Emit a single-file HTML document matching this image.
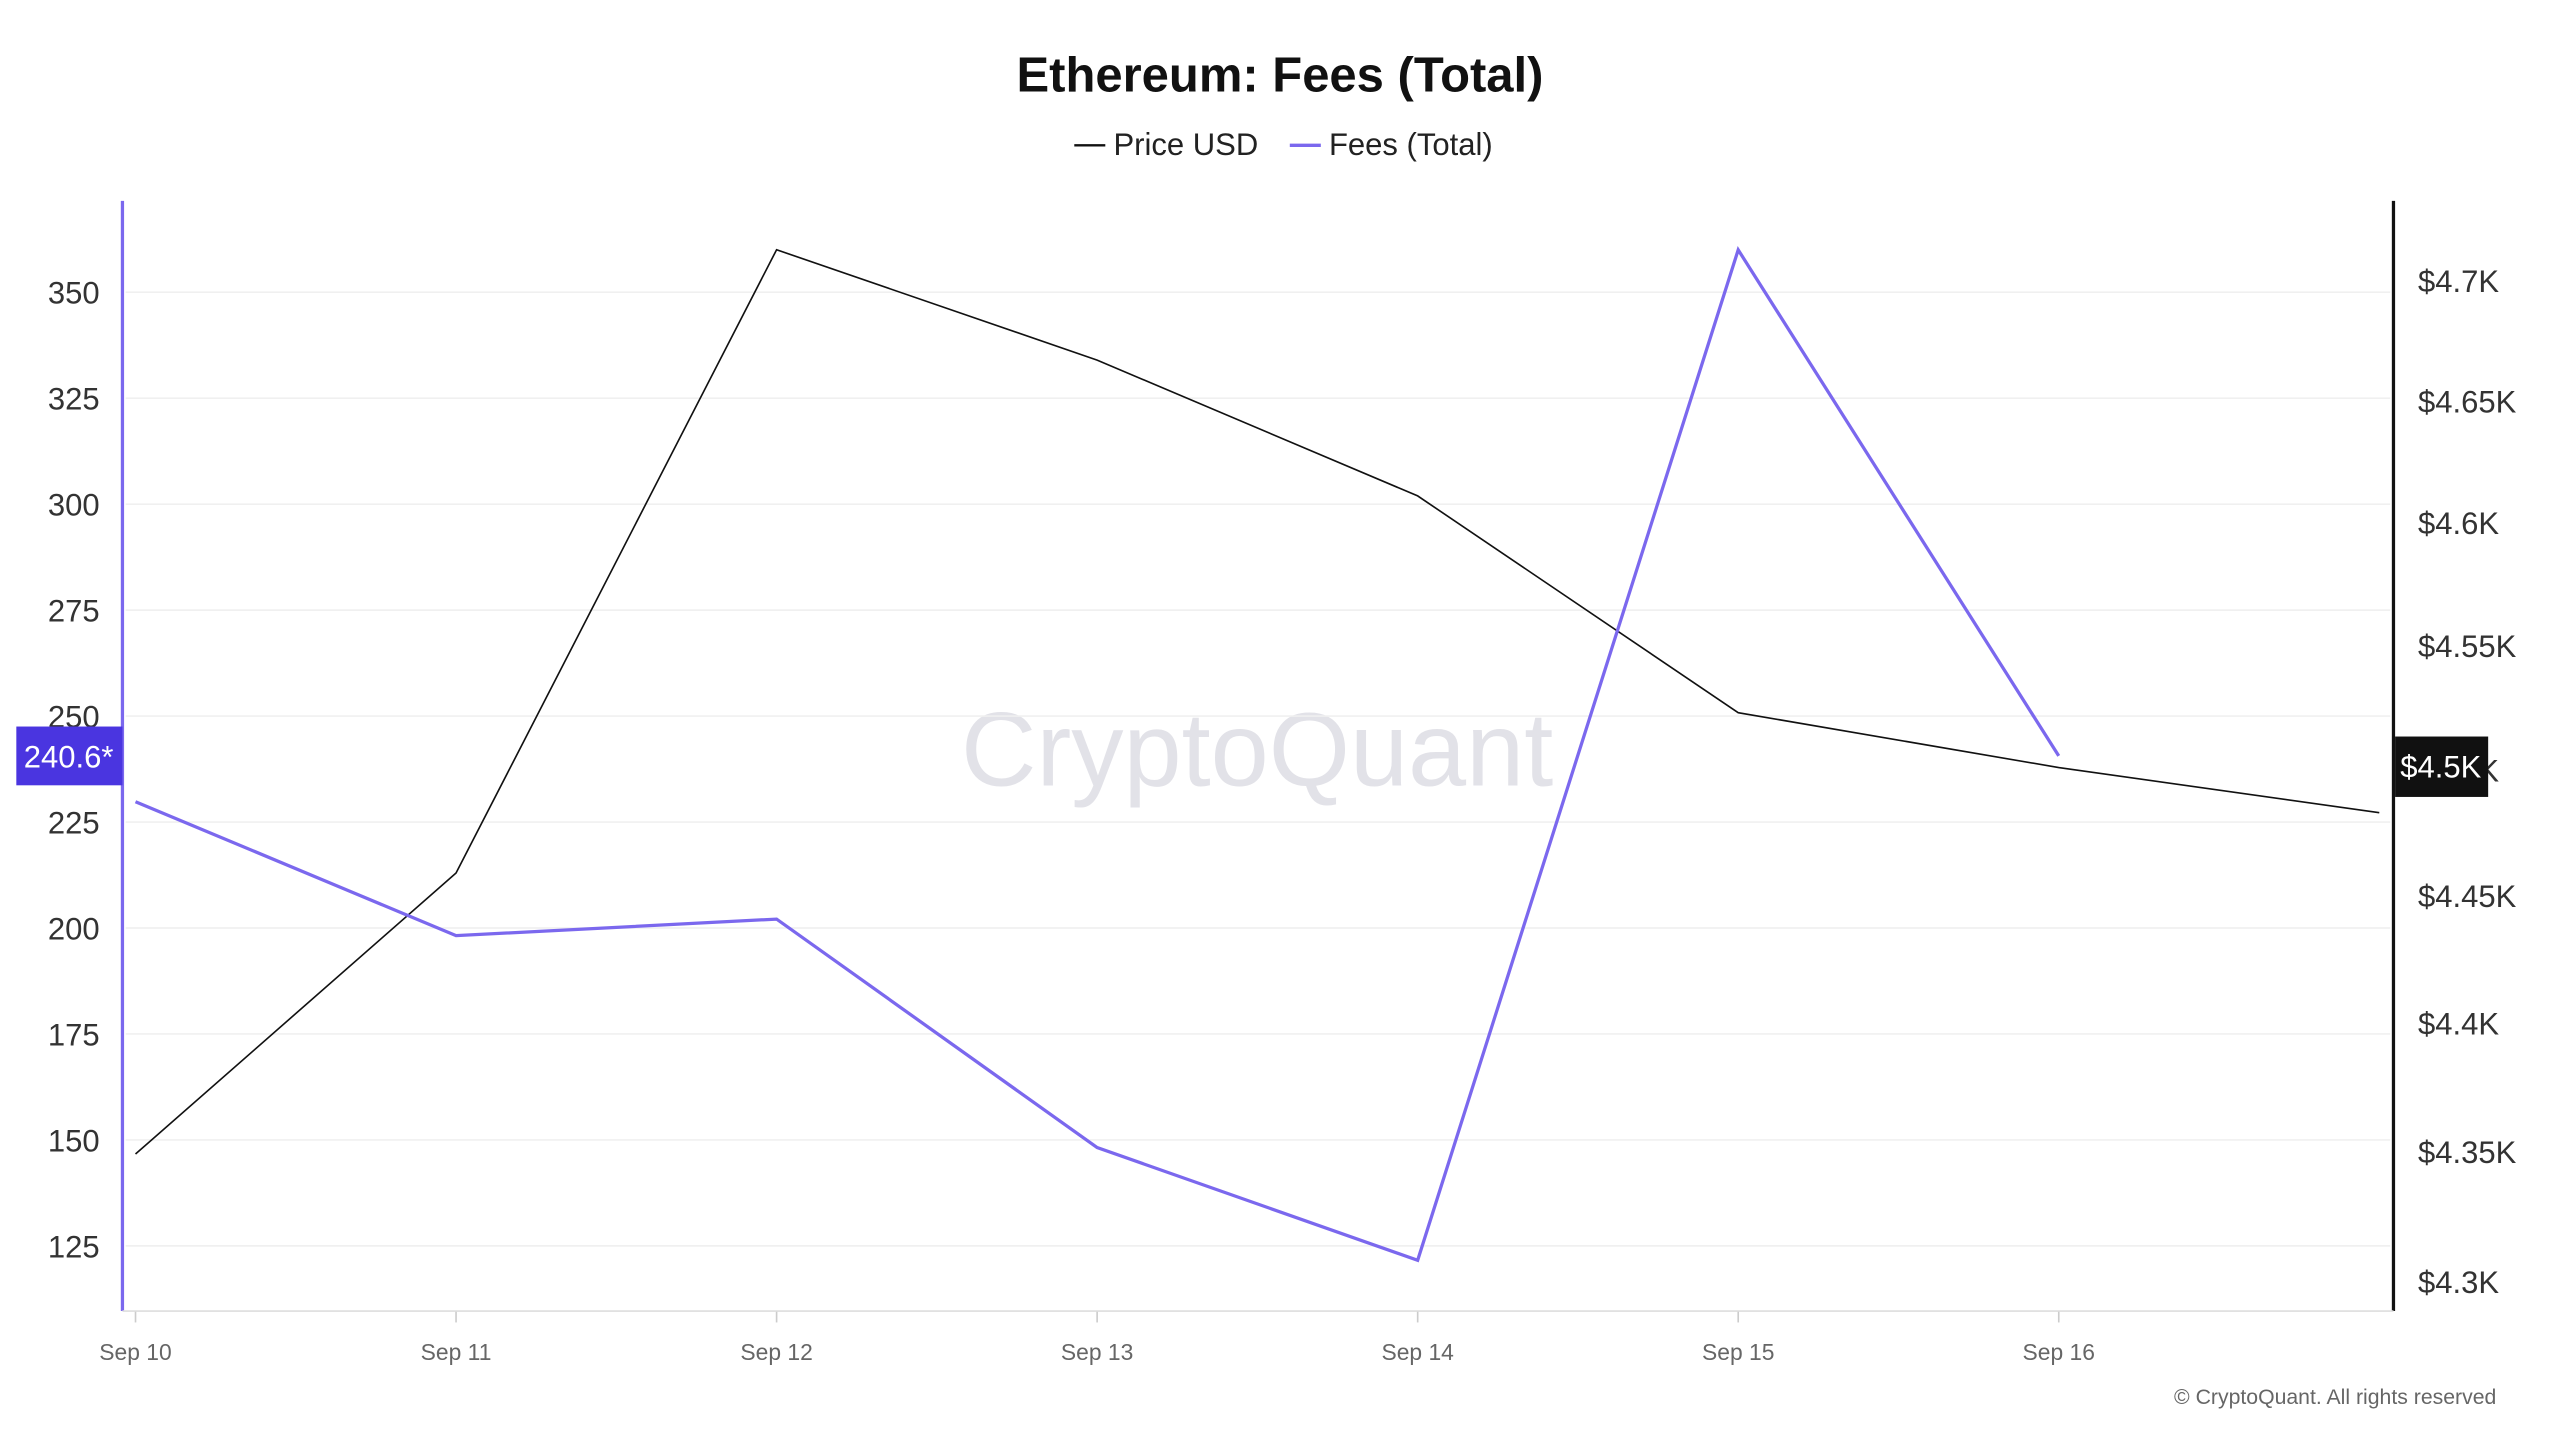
<!DOCTYPE html>
<html><head><meta charset="utf-8"><style>
html,body{margin:0;padding:0;background:#fff;width:2560px;height:1440px;overflow:hidden}
svg{display:block}
text{font-family:"Liberation Sans",sans-serif}
</style></head><body>
<svg id="chart" width="2560" height="1440" viewBox="0 0 1568 882" xmlns="http://www.w3.org/2000/svg">
<rect width="1568" height="882" fill="#fff"/>
<text x="784" y="56" text-anchor="middle" font-size="30" font-weight="bold" fill="#111">Ethereum: Fees (Total)</text>
<g>
<line x1="658" y1="89" x2="677" y2="89" stroke="#111" stroke-width="1.5"/>
<text x="682" y="95" font-size="19" fill="#222">Price USD</text>
<line x1="790" y1="89" x2="809" y2="89" stroke="#7b68ee" stroke-width="2"/>
<text x="814" y="95" font-size="19" fill="#222">Fees (Total)</text>
</g>
<text x="770" y="481" text-anchor="middle" font-size="64" fill="#e2e2e8">CryptoQuant</text>
<g id="grid"></g><g id="axes"></g><g id="series"></g><g id="labels"></g>
<text x="1529" y="860" text-anchor="end" font-size="13" fill="#666">© CryptoQuant. All rights reserved</text>
</svg>
<script>
const categories=["Sep 10","Sep 11","Sep 12","Sep 13","Sep 14","Sep 15","Sep 16","Sep 17"];
const priceValues=[4349,4459,4713,4667,4611,4523,4501,4483];
const feeValues=[229.8,198.2,202.1,148.2,121.6,360,240.6];
const leftTicks=[125,150,175,200,225,250,275,300,325,350];
const rightTicks=[4300,4350,4400,4450,4500,4550,4600,4650,4700];
const rightTickLabels=["$4.3K","$4.35K","$4.4K","$4.45K","$4.5K","$4.55K","$4.6K","$4.65K","$4.7K"];
const xLabels=["Sep 10","Sep 11","Sep 12","Sep 13","Sep 14","Sep 15","Sep 16"];
const NS="http://www.w3.org/2000/svg";
const xS=i=>83+i*196.33;
const yL=v=>179+(350-v)*2.596;
const yR=v=>172+6891*Math.log(4700/v);
function mk(tag,attrs,parent){const e=document.createElementNS(NS,tag);for(const k in attrs)e.setAttribute(k,attrs[k]);document.getElementById(parent).appendChild(e);return e;}
leftTicks.forEach(v=>{
 const g=mk('line',{x1:77,x2:1464,y1:yL(v),y2:yL(v),stroke:'#f0f0f0','stroke-width':1},'grid');
 
 
 const t=mk('text',{x:61,y:yL(v)+7,'text-anchor':'end','font-size':19,fill:'#333'},'labels');t.textContent=v;
 
 
});
rightTicks.forEach((v,i)=>{
 const t=mk('text',{x:1481,y:yR(v)+7,'font-size':19,fill:'#333'},'labels');t.textContent=rightTickLabels[i];
 
 
});
xLabels.forEach((c,i)=>{
 mk('line',{x1:xS(i),x2:xS(i),y1:803,y2:810,stroke:'#ccc'},'axes');
 const t=mk('text',{x:xS(i),y:833,'text-anchor':'middle','font-size':14,fill:'#666'},'labels');t.textContent=c;
 
 
});
let a=mk('line',{x1:75,x2:75,y1:123,y2:803,stroke:'#7b68ee','stroke-width':2},'axes');


a=mk('line',{x1:1466,x2:1466,y1:123,y2:803,stroke:'#111','stroke-width':2},'axes');


a=mk('line',{x1:75,x2:1466,y1:803,y2:803,stroke:'#ddd','stroke-width':1},'axes');


const pp=mk('polyline',{points:priceValues.map((v,i)=>xS(i)+','+yR(v)).join(' '),fill:'none',stroke:'#111','stroke-width':1},'series');


const fp=mk('polyline',{points:feeValues.map((v,i)=>xS(i)+','+yL(v)).join(' '),fill:'none',stroke:'#7b68ee','stroke-width':2},'series');


const lastFee=feeValues[feeValues.length-1];
let b=mk('rect',{x:10,y:yL(lastFee)-18,width:65,height:36,fill:'#4a35e0'},'labels');


let t=mk('text',{x:42,y:yL(lastFee)+7,'text-anchor':'middle','font-size':19,fill:'#fff'},'labels');t.textContent=lastFee+'*';


const pv=priceValues[6];
b=mk('rect',{x:1467,y:yR(pv)-19,width:57,height:37,fill:'#111'},'labels');


t=mk('text',{x:1495,y:yR(pv)+6,'text-anchor':'middle','font-size':19,fill:'#fff'},'labels');t.textContent='$4.5K';


</script>
</body></html>
